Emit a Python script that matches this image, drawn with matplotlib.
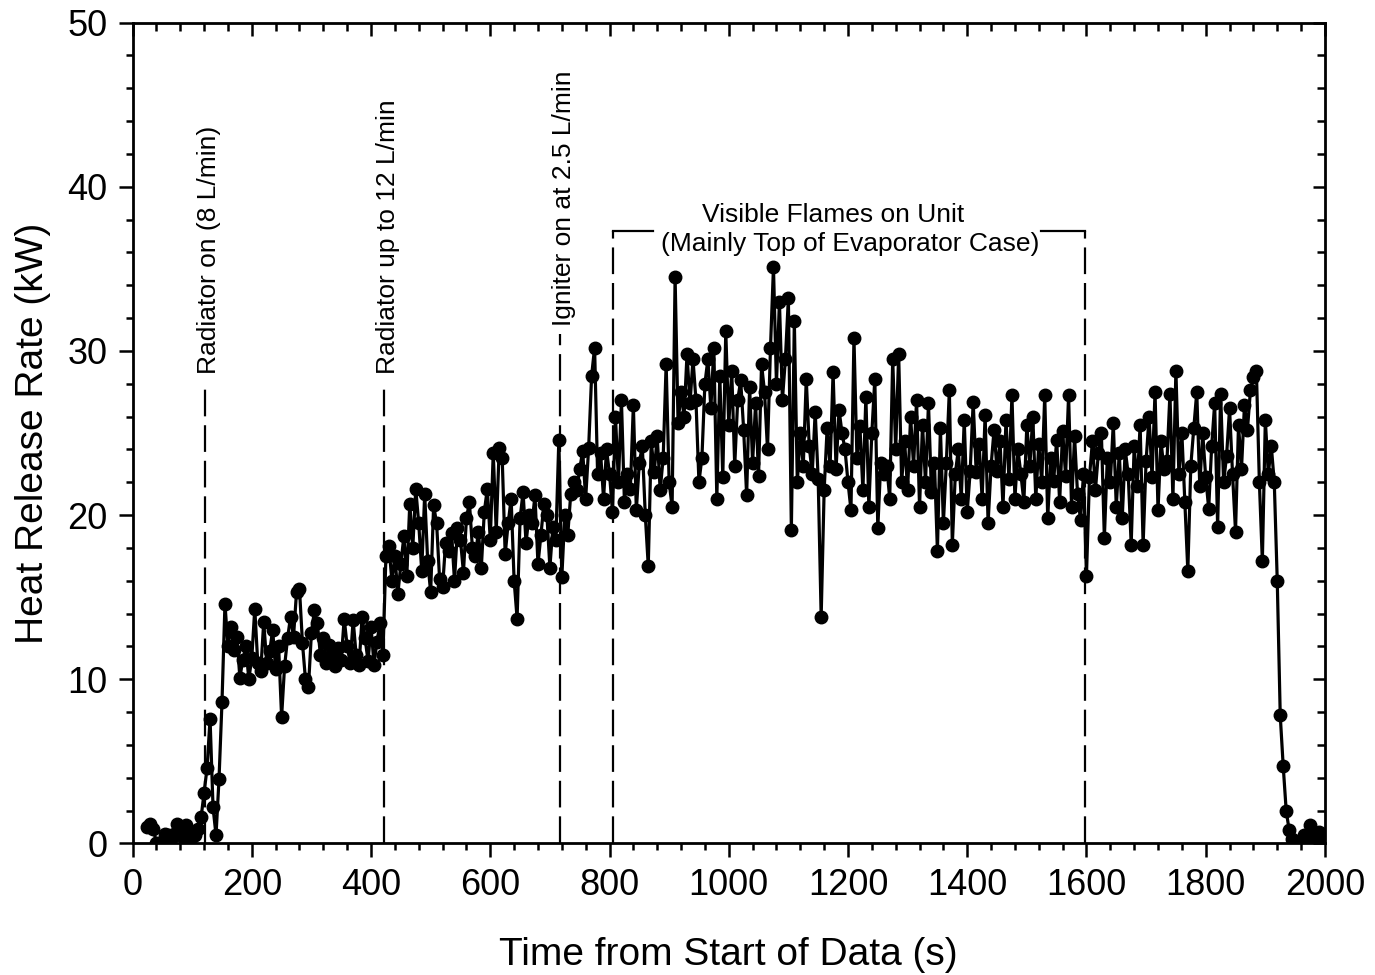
import numpy as np
import matplotlib
matplotlib.use("Agg")
import matplotlib.pyplot as plt

plt.rcParams['font.family'] = ['Liberation Sans', 'DejaVu Sans']

# heat release rate readings (kW), one every 5 s starting at 25 s
t_start = 25
t_step = 5
hrr = [
    1.0, 1.2, 0.9, 0.0, 0.0, 0.1, 0.6, 0.5, 0.3, 0.6,            # 25-70
    1.2, 0.9, 0.4, 1.1, 0.7, 0.4, 0.5, 0.9, 1.6, 3.1,            # 75-120
    4.6, 7.6, 2.2, 0.5, 3.9, 8.6, 14.6, 12.0, 13.2, 11.8,        # 125-170
    12.6, 10.1, 11.2, 12.0, 10.0, 11.3, 14.3, 11.0, 10.5, 13.5,  # 175-220
    11.0, 11.7, 13.0, 10.6, 12.0, 7.7, 10.8, 12.5, 13.8, 12.6,   # 225-270
    15.3, 15.5, 12.2, 10.0, 9.5, 12.8, 14.2, 13.4, 11.5, 12.5,   # 275-320
    11.0, 12.1, 11.4, 10.8, 11.9, 11.2, 13.7, 12.0, 11.0, 13.6,  # 325-370
    11.5, 10.9, 13.8, 12.5, 11.1, 13.2, 10.9, 12.3, 13.4, 11.5,  # 375-420
    17.5, 18.1, 16.0, 17.5, 15.2, 17.0, 18.7, 16.3, 20.7, 18.0,  # 425-470
    21.6, 19.5, 16.6, 21.3, 17.2, 15.3, 20.6, 19.5, 16.1, 15.6,  # 475-520
    18.3, 17.8, 18.9, 16.0, 19.2, 18.5, 16.5, 19.8, 20.8, 18.0,  # 525-570
    17.5, 19.0, 16.8, 20.2, 21.6, 18.5, 23.8, 19.0, 24.1, 23.5,  # 575-620
    17.6, 19.5, 21.0, 16.0, 13.7, 19.8, 21.4, 18.3, 20.0, 19.5,  # 625-670
    21.2, 17.0, 18.8, 20.7, 20.0, 16.8, 19.3, 18.5, 24.6, 16.2,  # 675-720
    20.0, 18.8, 21.3, 22.0, 21.5, 22.8, 23.9, 21.0, 24.1, 28.5,  # 725-770
    30.2, 22.5, 23.8, 21.0, 24.0, 22.5, 20.2, 26.0, 22.0, 27.0,  # 775-820
    20.8, 22.5, 21.6, 26.7, 20.3, 23.2, 24.2, 20.0, 16.9, 24.5,  # 825-870
    22.6, 24.8, 21.5, 23.5, 29.2, 22.0, 20.5, 34.5, 25.6, 27.5,  # 875-920
    26.0, 29.8, 26.8, 29.5, 27.0, 22.0, 23.5, 28.0, 29.5, 26.5,  # 925-970
    30.2, 21.0, 28.5, 22.3, 31.2, 25.5, 28.8, 23.0, 27.0, 28.2,  # 975-1020
    25.2, 21.2, 27.8, 23.2, 26.8, 22.4, 29.2, 27.5, 24.0, 30.2,  # 1025-1070
    35.1, 28.0, 33.0, 27.0, 29.5, 33.2, 19.1, 31.8, 22.0, 25.0,  # 1075-1120
    23.0, 28.3, 24.2, 22.5, 26.3, 22.2, 13.8, 21.5, 25.3, 23.0,  # 1125-1170
    28.7, 22.8, 26.4, 25.0, 24.0, 22.0, 20.3, 30.8, 23.5, 25.4,  # 1175-1220
    21.5, 27.2, 20.5, 25.0, 28.3, 19.2, 23.2, 22.5, 23.0, 21.0,  # 1225-1270
    29.5, 24.0, 29.8, 22.0, 24.5, 21.5, 26.0, 23.0, 27.0, 20.5,  # 1275-1320
    25.5, 22.0, 26.8, 21.4, 23.2, 17.8, 25.3, 19.5, 23.2, 27.6,  # 1325-1370
    18.2, 22.5, 24.0, 21.0, 25.8, 20.2, 22.7, 26.9, 22.6, 24.3,  # 1375-1420
    21.0, 26.1, 19.5, 23.0, 25.2, 22.7, 24.5, 20.5, 25.8, 22.2,  # 1425-1470
    27.3, 21.0, 24.0, 22.5, 20.8, 25.5, 23.0, 26.0, 21.0, 24.3,  # 1475-1520
    22.0, 27.3, 19.8, 23.5, 22.1, 24.6, 20.8, 25.1, 22.4, 27.3,  # 1525-1570
    20.5, 24.8, 21.3, 19.7, 22.5, 16.3, 22.3, 24.5, 21.5, 23.8,  # 1575-1620
    25.0, 18.6, 23.5, 22.0, 25.6, 20.5, 23.8, 19.8, 24.0, 22.5,  # 1625-1670
    18.2, 24.2, 21.8, 25.5, 18.2, 23.3, 26.0, 22.3, 27.5, 20.3,  # 1675-1720
    24.5, 22.8, 23.3, 27.4, 21.0, 28.8, 22.5, 25.0, 20.8, 16.6,  # 1725-1770
    23.0, 25.3, 27.5, 21.8, 25.0, 22.3, 20.4, 24.2, 26.8, 19.3,  # 1775-1820
    27.4, 22.0, 23.6, 26.5, 22.5, 19.0, 25.5, 22.8, 26.7, 25.2,  # 1825-1870
    27.6, 28.4, 28.8, 22.0, 17.2, 25.8, 22.5, 24.2, 22.0, 16.0,  # 1875-1920
    7.8, 4.7, 2.0, 0.8, 0.3, 0.1, 0.0, 0.2, 0.5, 0.3,            # 1925-1970
    1.1, 0.4, 0.2, 0.7, 0.4, 0.0,                                # 1975-2000
]
time_s = t_start + t_step * np.arange(len(hrr))

# event markers (s) and their labels
events = [122, 422, 717]
event_tops = [27.8, 27.8, 31.0]
event_text_y = [28.6, 28.6, 31.5]
event_labels = ["Radiator on (8 L/min)", "Radiator up to 12 L/min", "Igniter on at 2.5 L/min"]

flame_start = 806
flame_end = 1597
flame_top = 37.3

fig = plt.figure(figsize=(13.75, 9.75), dpi=100)
ax = fig.add_axes([0.0964, 0.1349, 0.8672, 0.842])

ax.plot(time_s, hrr, color='black', lw=2.3, marker='o', ms=9,
        markerfacecolor='black', markeredgecolor='black')

dash = (0, (12, 4))
for x, top, ty, lab in zip(events, event_tops, event_text_y, event_labels):
    ax.plot([x, x], [0, top], color='black', lw=1.6, linestyle=dash)
    ax.text(x + 6, ty, lab, rotation=90, ha='center', va='bottom', fontsize=19)

# bracket for the visible flame period
ax.plot([flame_start, flame_start], [0, flame_top], color='black', lw=1.6, linestyle=dash)
ax.plot([flame_end, flame_end], [0, flame_top], color='black', lw=1.6, linestyle=dash)
ax.plot([flame_start, flame_start + 67], [flame_top, flame_top], color='black', lw=1.6)
ax.plot([flame_end - 74, flame_end], [flame_top, flame_top], color='black', lw=1.6)
ax.text(1175, 38.3, "Visible Flames on Unit", ha='center', va='center', fontsize=19)
ax.text(1204, 36.5, "(Mainly Top of Evaporator Case)", ha='center', va='center', fontsize=19)

ax.set_xlim(0, 2000)
ax.set_ylim(0, 50)
ax.set_xticks(np.arange(0, 2001, 200))
ax.set_xticks(np.arange(0, 2001, 40), minor=True)
ax.set_yticks(np.arange(0, 51, 10))
ax.set_yticks(np.arange(0, 51, 2), minor=True)
ax.tick_params(which='both', direction='out', labelsize=26, width=1.8, pad=8)
ax.tick_params(which='major', length=10)
ax.tick_params(which='minor', length=5)

top = ax.secondary_xaxis('top')
top.set_xticks(np.arange(0, 2001, 200))
top.set_xticks(np.arange(0, 2001, 40), minor=True)
top.tick_params(which='both', direction='in', labeltop=False, width=1.8)
top.tick_params(which='major', length=9)
top.tick_params(which='minor', length=6)
right = ax.secondary_yaxis('right')
right.set_yticks(np.arange(0, 51, 10))
right.set_yticks(np.arange(0, 51, 2), minor=True)
right.tick_params(which='both', direction='in', labelright=False, width=1.8)
right.tick_params(which='major', length=9)
right.tick_params(which='minor', length=6)

for s in ax.spines.values():
    s.set_linewidth(2.0)

ax.set_xlabel("Time from Start of Data (s)", fontsize=28, labelpad=24)
ax.set_ylabel("Heat Release Rate (kW)", fontsize=28, labelpad=12)

fig.savefig("out.png", dpi=100)
